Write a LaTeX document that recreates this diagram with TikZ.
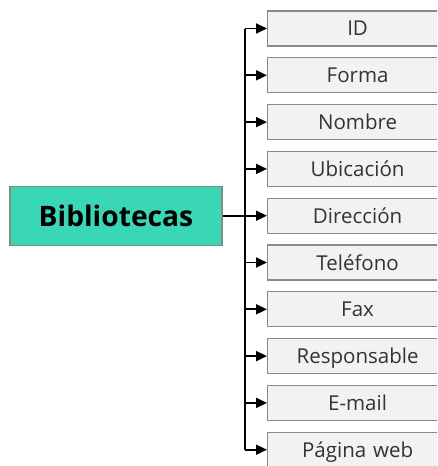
\documentclass[tikz,border=0pt]{standalone}
\usepackage{fontspec}
\setmainfont{Open Sans}
\usetikzlibrary{arrows.meta}
\definecolor{teal1}{HTML}{3AD7B6}
\definecolor{boxfill}{HTML}{F2F2F2}
\definecolor{boxline}{HTML}{8A8A8A}
\definecolor{txt}{HTML}{333333}
\begin{document}
\begin{tikzpicture}[x=1pt,y=-1pt,
  item/.style={draw=boxline,fill=boxfill,line width=1.2pt,minimum width=180pt,minimum height=35pt,inner sep=0pt,anchor=west,font=\fontsize{20.5}{22}\selectfont,text=txt,text width=170pt,align=center,text depth=0pt},
  main/.style={draw=boxline,fill=teal1,line width=1.2pt,minimum width=212pt,minimum height=59pt,inner sep=0pt,font=\bfseries\fontsize{28.2}{30}\selectfont,text=black},
  wire/.style={line width=1.8pt,draw=black},
  conn/.style={wire,-{Triangle[length=11pt,width=10pt]}}]
\useasboundingbox (0,0) rectangle (437,466);
\clip (0,0) rectangle (437,466);
\node[main] (m) at (116,216) {Bibliotecas};
\coordinate (j) at (245,216);
\foreach \t [count=\i from 0] in {ID,Forma,Nombre,Ubicación,Dirección,Teléfono,Fax,Responsable,E-mail,Página web}{
  \node[item] (b\i) at (267,28.5+\i*46.8) {\hspace*{0pt}\makebox[170pt]{\t}};
}
\draw[wire] (m.east) -- (j);
\draw[wire] (245,28.5) -- (245,449.7);
\foreach \i in {0,...,9}{
  \draw[conn] (245,0 |- b\i.west) -- (b\i.west);
}
\end{tikzpicture}
\end{document}
